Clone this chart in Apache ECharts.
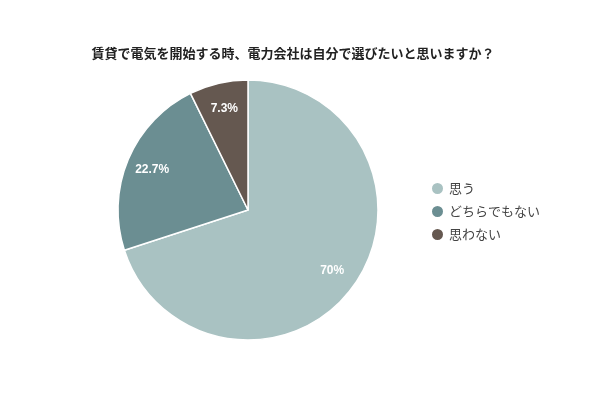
<!DOCTYPE html>
<html>
<head>
<meta charset="utf-8">
<script src="https://cdn.jsdelivr.net/npm/echarts@6/dist/echarts.min.js"></script>
<style>
  html, body { margin: 0; padding: 0; background: #fff; }
  #main { width: 600px; height: 400px; }
</style>
</head>
<body>
<div id="main"></div>
<script>
var titleText = '賃貸で電気を開始する時、電力会社は自分で選びたいと思いますか？';
var categories = ['思う', 'どちらでもない', '思わない'];
var values = [70, 22.7, 7.3];
var colors = ['#a9c2c2', '#6b8e92', '#655850'];

var myChart = echarts.init(document.getElementById('main'));

var pieData = categories.map(function (name, i) {
    return { name: name, value: values[i], itemStyle: { color: colors[i] } };
});

option = {
    animation: false,
    title: {
        text: titleText,
        left: 288,
        textAlign: 'center',
        top: 42,
        textStyle: {
            fontFamily: 'Noto Sans CJK JP',
            fontSize: 13,
            fontWeight: 'bold',
            color: '#222'
        }
    },
    legend: {
        orient: 'vertical',
        left: 425,
        top: 176,
        itemWidth: 13,
        itemHeight: 13,
        itemGap: 8,
        icon: 'circle',
        data: categories,
        textStyle: {
            fontFamily: 'Noto Sans CJK JP',
            fontSize: 13,
            color: '#444'
        }
    },
    series: [
        {
            // visible slices
            type: 'pie',
            center: [248, 210],
            radius: [0, 130],
            startAngle: 90,
            clockwise: true,
            label: { show: false },
            labelLine: { show: false },
            itemStyle: { borderColor: '#fff', borderWidth: 1.5 },
            emphasis: { disabled: true },
            data: pieData
        },
        {
            // label ring only, puts the numbers further out than 'inside' does
            type: 'pie',
            center: [248, 210],
            radius: [72, 130],
            startAngle: 90,
            clockwise: true,
            silent: true,
            itemStyle: { color: 'transparent' },
            label: {
                show: true,
                position: 'inside',
                formatter: '{c}%',
                color: '#fff',
                fontFamily: 'Liberation Sans',
                fontSize: 12,
                fontWeight: 'bold'
            },
            labelLine: { show: false },
            data: categories.map(function (name, i) {
                return { name: name, value: values[i] };
            })
        }
    ]
};

myChart.setOption(option);
</script>
</body>
</html>
